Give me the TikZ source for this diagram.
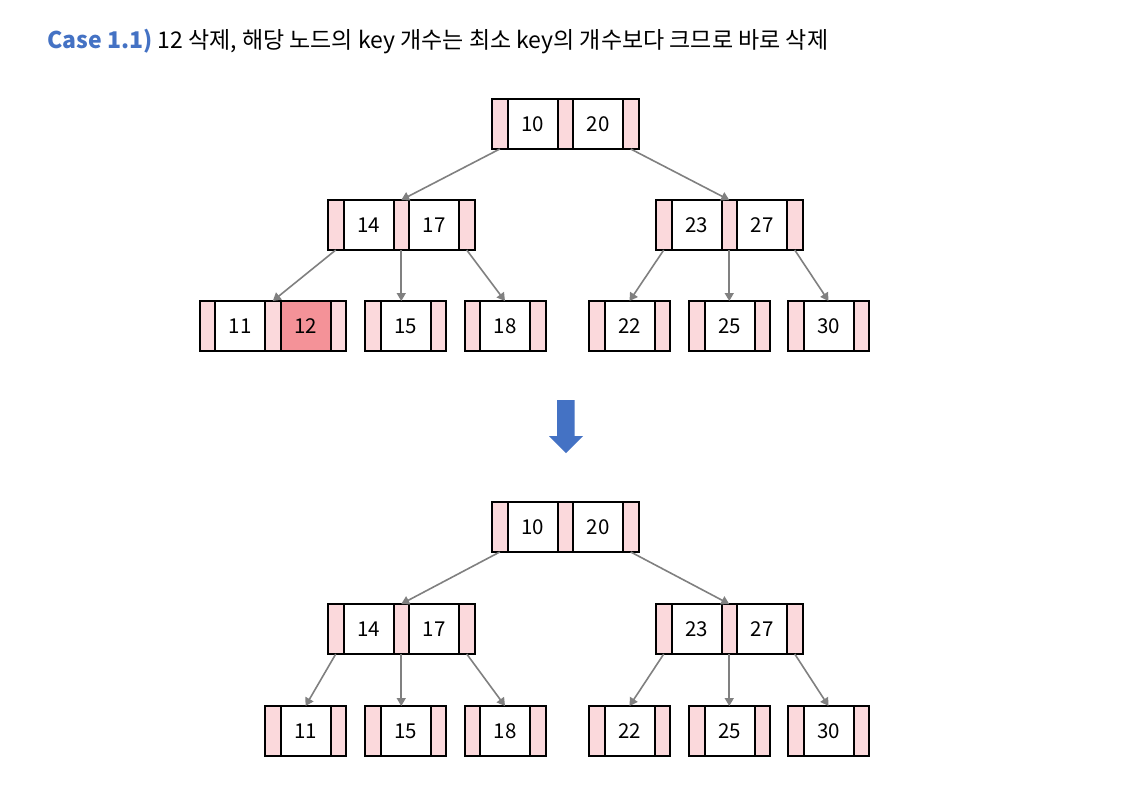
\documentclass[tikz,border=0pt]{standalone}
\usepackage{fontspec}
\setmainfont{Noto Sans CJK KR}
\usetikzlibrary{arrows.meta}
\definecolor{ptrpink}{RGB}{251,217,220}
\definecolor{delpink}{RGB}{244,146,152}
\definecolor{edgegray}{RGB}{128,128,128}
\definecolor{caseblue}{RGB}{68,114,196}
\tikzset{
  cell/.style={draw=black, line width=2pt, outer sep=0pt, inner sep=0pt, minimum height=50pt, font=\fontsize{20.5}{20.5}\selectfont},
  ptr/.style={cell, fill=ptrpink, minimum width=15.5pt},
  keycell/.style={cell, fill=white, minimum width=50pt},
  delkey/.style={fill=delpink},
  edge/.style={draw=edgegray, line width=1.6pt, -{Triangle[length=8pt,width=9pt]}},
  bigarrow/.style={fill=caseblue, draw=none},
}
% two-key node: [extra style for 2nd key]{name}{x}{y}{k1}{k2}
\newcommand{\twokey}[6][]{%
  \node[ptr, anchor=north west] (#2p0) at (#3,#4) {};
  \node[keycell, anchor=west] (#2k1) at (#2p0.east) {#5};
  \node[ptr, anchor=west] (#2p1) at (#2k1.east) {};
  \node[keycell, anchor=west, #1] (#2k2) at (#2p1.east) {#6};
  \node[ptr, anchor=west] (#2p2) at (#2k2.east) {};
}
% one-key node: {name}{x}{y}{k1}
\newcommand{\onekey}[4]{%
  \node[ptr, anchor=north west] (#1p0) at (#2,#3) {};
  \node[keycell, anchor=west] (#1k1) at (#1p0.east) {#4};
  \node[ptr, anchor=west] (#1p1) at (#1k1.east) {};
}
\begin{document}
\begin{tikzpicture}[x=1pt,y=-1pt]
\useasboundingbox (0,0) rectangle (1125,807);
\fill[white] (0,0) rectangle (1125,807);
% title
\node[anchor=base west, inner sep=0pt, font=\fontsize{23}{24}\selectfont] (title) at (47,48)
  {\textcolor{caseblue}{\bfseries Case 1.1)} 12 삭제, 해당 노드의 key 개수는 최소 key의 개수보다 크므로 바로 삭제};

% ---------- upper tree ----------
\twokey{ar}{492}{99}{10}{20}
\twokey{aL}{328}{200}{14}{17}
\twokey{aR}{656}{200}{23}{27}
\twokey[delkey]{aa}{199.5}{301}{11}{12}
\onekey{ab}{365}{301}{15}
\onekey{ac}{464.5}{301}{18}
\onekey{ad}{589}{301}{22}
\onekey{ae}{689}{301}{25}
\onekey{af}{788}{301}{30}

\draw[edge] (arp0.south) -- (aLp1.north);
\draw[edge] (arp2.south) -- (aRp1.north);
\draw[edge] (aLp0.south) -- (aap1.north);
\draw[edge] (aLp1.south) -- (aLp1.south |- abk1.north);
\draw[edge] (aLp2.south) -- (ack1.north);
\draw[edge] (aRp0.south) -- (adk1.north);
\draw[edge] (aRp1.south) -- (aRp1.south |- aek1.north);
\draw[edge] (aRp2.south) -- (afk1.north);

% ---------- big arrow ----------
\path[bigarrow] (557,400) -- (574.5,400) -- (574.5,436) -- (583,436) -- (566,453) -- (549,436) -- (557,436) -- cycle;

% ---------- lower tree ----------
\twokey{br}{492}{502}{10}{20}
\twokey{bL}{328}{604}{14}{17}
\twokey{bR}{656}{604}{23}{27}
\onekey{ba}{265}{706}{11}
\onekey{bb}{365}{706}{15}
\onekey{bc}{464.5}{706}{18}
\onekey{bd}{589}{706}{22}
\onekey{be}{689}{706}{25}
\onekey{bf}{788}{706}{30}

\draw[edge] (brp0.south) -- (bLp1.north);
\draw[edge] (brp2.south) -- (bRp1.north);
\draw[edge] (bLp0.south) -- (bak1.north);
\draw[edge] (bLp1.south) -- (bLp1.south |- bbk1.north);
\draw[edge] (bLp2.south) -- (bck1.north);
\draw[edge] (bRp0.south) -- (bdk1.north);
\draw[edge] (bRp1.south) -- (bRp1.south |- bek1.north);
\draw[edge] (bRp2.south) -- (bfk1.north);
\end{tikzpicture}
\end{document}
